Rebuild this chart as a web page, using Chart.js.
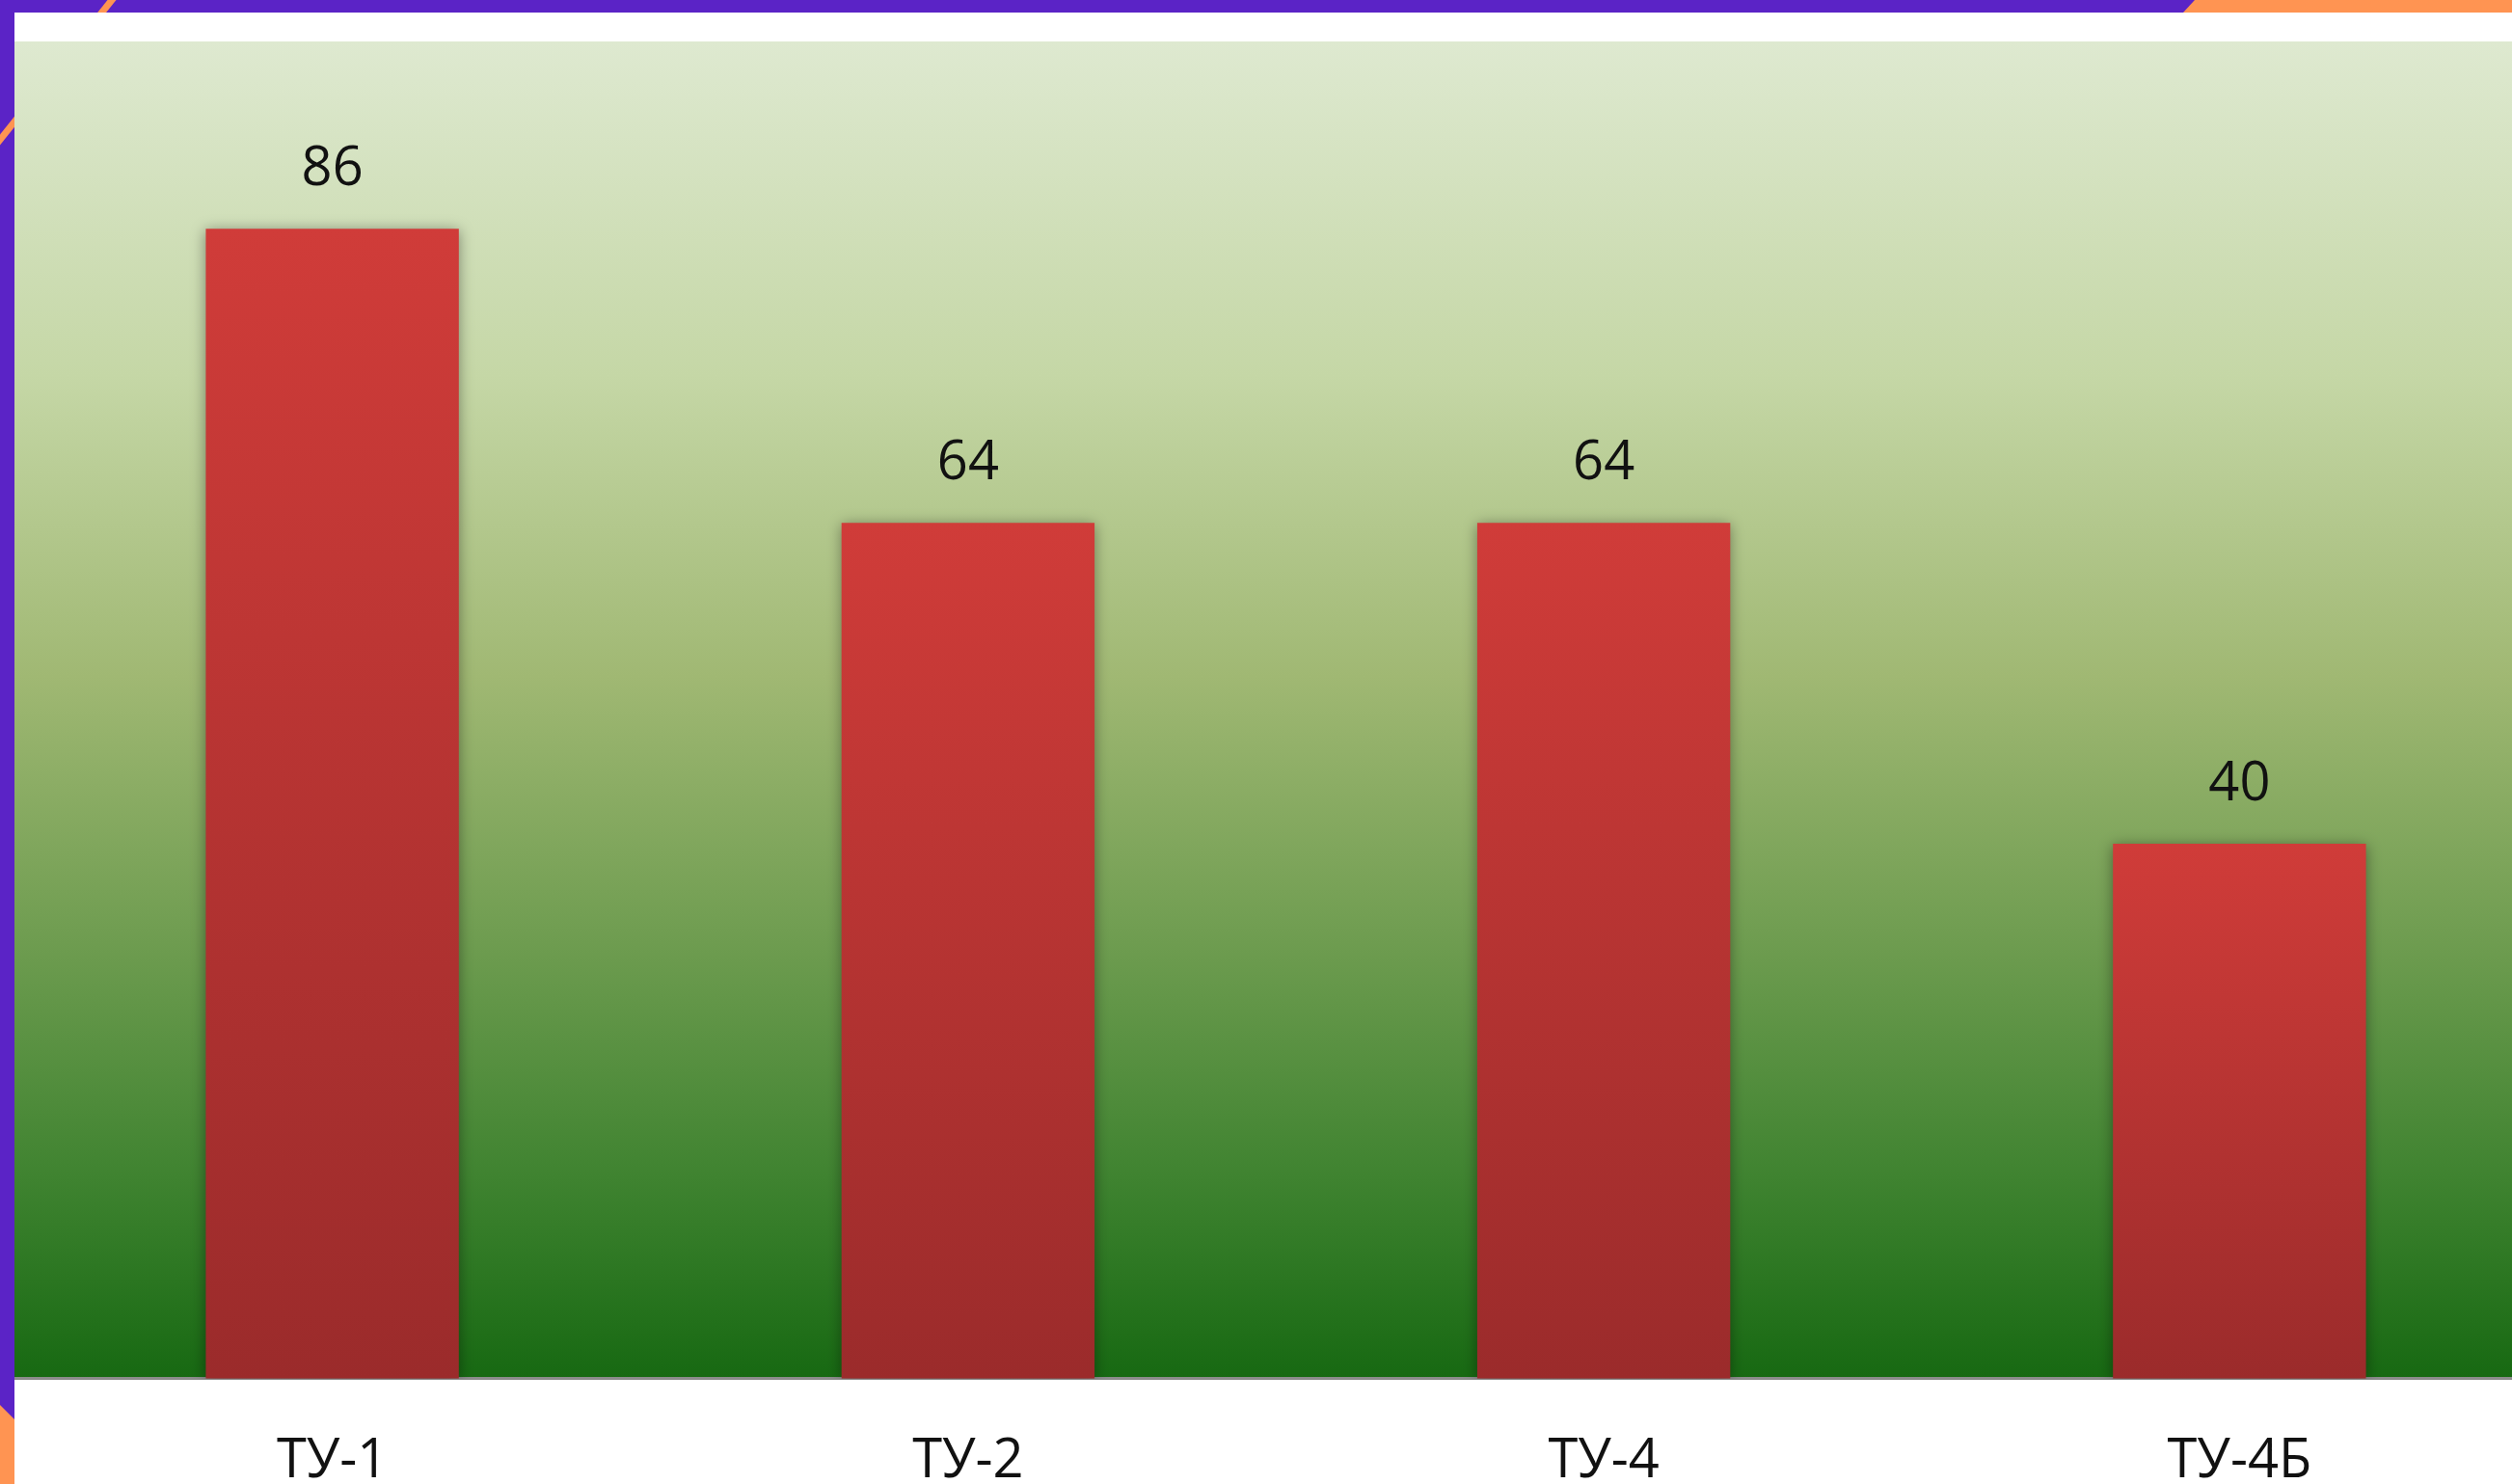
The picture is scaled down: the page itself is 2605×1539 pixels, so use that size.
<!DOCTYPE html>
<html>
<head>
<meta charset="utf-8">
<script src="https://cdn.jsdelivr.net/npm/chart.js@4.4.1/dist/chart.umd.min.js"></script>
<style>
body{margin:0;width:2605px;height:1539px;overflow:hidden;position:relative;background:#5b23c6;}
.deco{position:absolute;left:0;top:0;}
.panel{position:absolute;left:15px;top:13px;right:0;bottom:0;background:#fff;overflow:hidden;}
.box{position:relative;width:2637px;height:1590px;}
</style>
</head>
<body>
<svg class="deco" width="2605" height="1539">
  <polygon points="2264,13 2276,0 2605,0 2605,13" fill="#ff9452"/>
  <polygon points="0,1457 15,1472 15,1539 0,1539" fill="#ff9452"/>
  <line x1="120" y1="-5" x2="-4" y2="150" stroke="#ff9452" stroke-width="7"/>
</svg>
<div class="panel"><div class="box"><canvas id="myChart"></canvas></div></div>
<script>
const categories=["ТУ-1","ТУ-2","ТУ-4","ТУ-4Б"];
const values=[86,64,64,40];
const yRange=[0,100];

const fontFamily="'Open Sans', 'Noto Sans', sans-serif";

const barFill=(context)=>{
    const chart=context.chart;
    if(!chart.chartArea) return "#c03a37";
    const y=chart.scales.y;
    const top=y.getPixelForValue(values[context.dataIndex]);
    const bottom=y.getPixelForValue(0);
    const g=chart.ctx.createLinearGradient(0,top,0,bottom);
    g.addColorStop(0,"#d03c39");
    g.addColorStop(1,"#9b2b2b");
    return g;
};

const plotBackground={
    id:"plotBackground",
    beforeDraw:(chart)=>{
        const {ctx,chartArea}=chart;
        const g=ctx.createLinearGradient(0,chartArea.top,0,chartArea.bottom);
        g.addColorStop(0,"#dee9d0");
        g.addColorStop(0.25,"#c5d7a6");
        g.addColorStop(0.475,"#a0b873");
        g.addColorStop(0.69,"#6a9a4d");
        g.addColorStop(0.85,"#3f8330");
        g.addColorStop(1,"#176912");
        ctx.save();
        ctx.fillStyle=g;
        ctx.fillRect(chartArea.left,chartArea.top,chartArea.right-chartArea.left,chartArea.bottom-chartArea.top);
        ctx.restore();
    }
};

const barShadow={
    id:"barShadow",
    beforeDatasetsDraw:(chart)=>{
        const ctx=chart.ctx;
        ctx.save();
        ctx.shadowColor="rgba(0,0,0,0.4)";
        ctx.shadowBlur=14;
        ctx.shadowOffsetY=2;
    },
    afterDatasetsDraw:(chart)=>{
        chart.ctx.restore();
    }
};

const valueLabels={
    id:"valueLabels",
    afterDraw:(chart)=>{
        const ctx=chart.ctx;
        const meta=chart.getDatasetMeta(0);
        ctx.save();
        ctx.font="56px "+fontFamily;
        ctx.fillStyle="#111";
        ctx.textAlign="center";
        ctx.textBaseline="alphabetic";
        meta.data.forEach((bar,i)=>{
            ctx.fillText(String(values[i]),bar.x,bar.y-45);
        });
        ctx.restore();
    }
};

const ctx=document.getElementById("myChart").getContext("2d");
const myChart=new Chart(ctx,{
    type:"bar",
    data:{
        labels:categories,
        datasets:[{
            data:values,
            backgroundColor:barFill,
            borderWidth:0,
            categoryPercentage:1,
            barPercentage:0.398,
        }],
    },
    options:{
        responsive:true,
        maintainAspectRatio:false,
        animation:false,
        layout:{padding:{top:30,left:0,right:0,bottom:0}},
        plugins:{legend:{display:false},tooltip:{enabled:false}},
        scales:{
            x:{
                grid:{display:false,drawTicks:false},
                border:{display:true,color:"#8c8c8c",width:3},
                ticks:{color:"#111",padding:53,font:{family:fontFamily,size:56}},
            },
            y:{
                display:false,
                min:yRange[0],
                max:yRange[1],
            },
        },
    },
    plugins:[plotBackground,barShadow,valueLabels],
});
</script>
</body>
</html>
